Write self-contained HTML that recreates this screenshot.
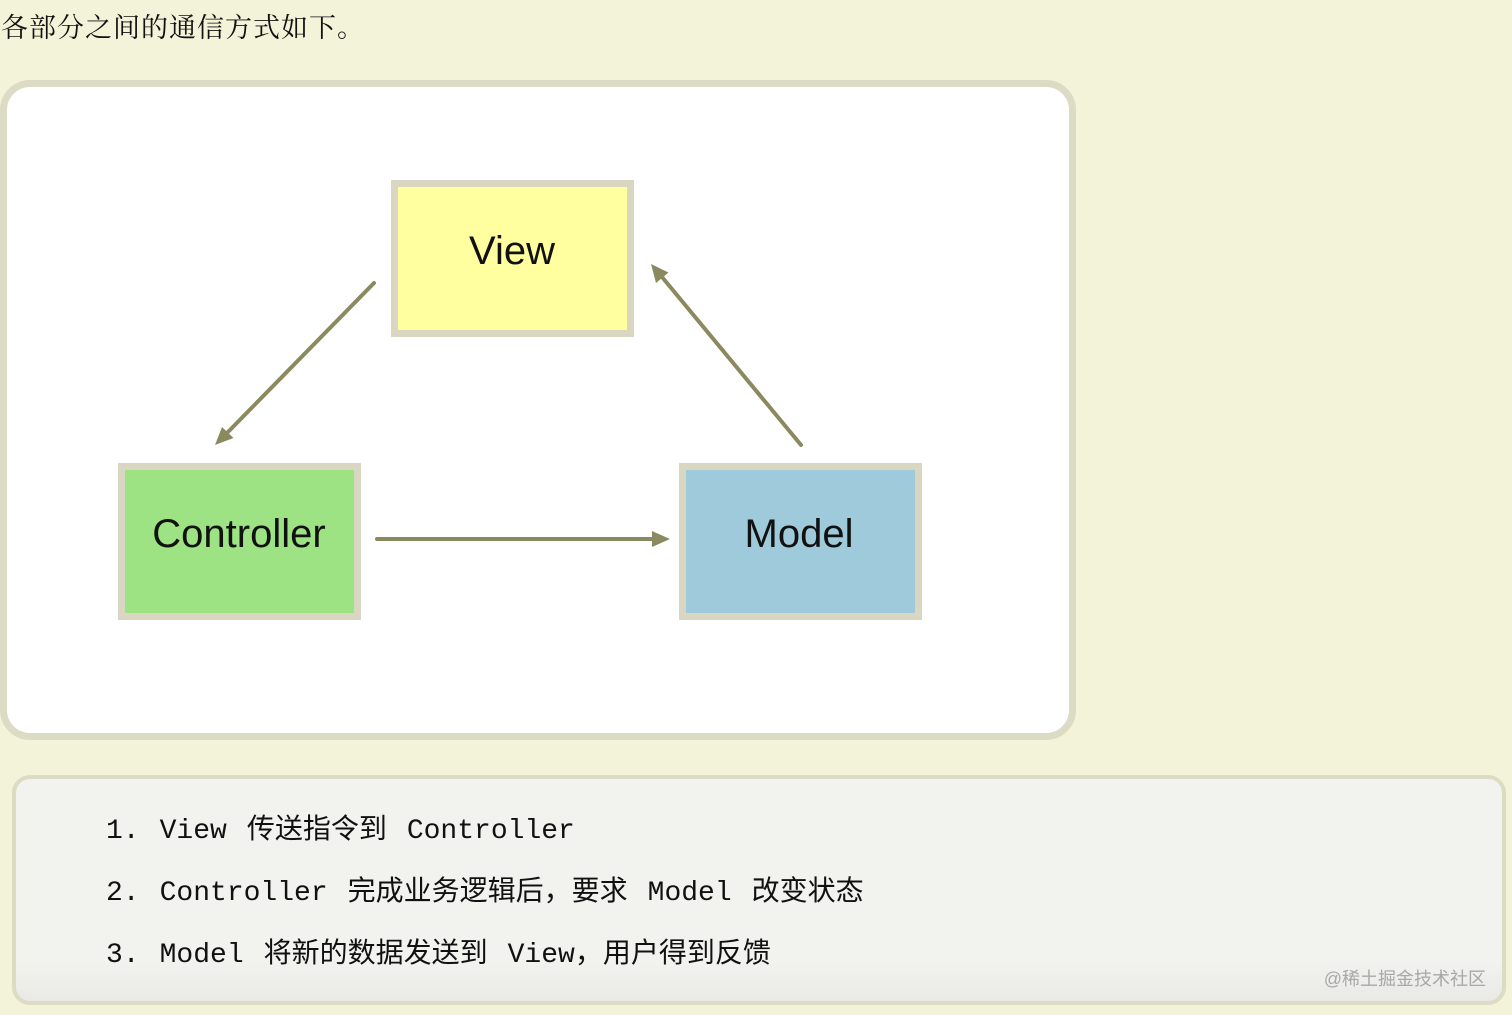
<!DOCTYPE html>
<html>
<head>
<meta charset="utf-8">
<style>
  html, body { margin: 0; padding: 0; }
  body {
    width: 1512px; height: 1015px; overflow: hidden;
    background: #f3f3da;
    position: relative;
  }
  .frame {
    position: absolute; left: 0; top: 80px;
    width: 1062px; height: 646px;
    background: #ffffff;
    border: 7px solid #dcdbc5;
    border-radius: 30px;
  }
  .code {
    position: absolute; left: 12px; top: 775px;
    width: 1486px; height: 222px;
    border: 4px solid #dcdcc4;
    border-radius: 18px;
    background: linear-gradient(to bottom, #f2f2ef 0%, #f2f2ef 82%, #e9e9e5 100%);
  }
  svg { position: absolute; left: 0; top: 0; }
</style>
</head>
<body>
<div class="frame"></div>
<div class="code"></div>
<svg width="1512" height="1015" viewBox="0 0 1512 1015" xmlns="http://www.w3.org/2000/svg">
  <text x="1" y="37" font-family="'Liberation Serif', 'Noto Serif CJK SC', serif" font-size="27" letter-spacing="1" fill="#111">各部分之间的通信方式如下。</text>

  <!-- View box -->
  <rect x="394.5" y="183.5" width="236" height="150" fill="#ffffa0" stroke="#d9d6c1" stroke-width="7"/>
  <text x="512" y="264" text-anchor="middle" font-family="'Liberation Sans', sans-serif" font-size="40" fill="#111">View</text>

  <!-- Controller box -->
  <rect x="121.5" y="466.5" width="236" height="150" fill="#9de283" stroke="#d9d6c1" stroke-width="7"/>
  <text x="239" y="547" text-anchor="middle" font-family="'Liberation Sans', sans-serif" font-size="40" fill="#111">Controller</text>

  <!-- Model box -->
  <rect x="682.5" y="466.5" width="236" height="150" fill="#9ecadb" stroke="#d9d6c1" stroke-width="7"/>
  <text x="799" y="547" text-anchor="middle" font-family="'Liberation Sans', sans-serif" font-size="40" fill="#111">Model</text>

  <!-- Arrows -->
  <g stroke="#8a895f" stroke-width="4" stroke-linecap="round" fill="none">
    <line x1="374" y1="283" x2="227" y2="433"/>
    <line x1="801" y1="445" x2="662" y2="277"/>
    <line x1="377" y1="539" x2="654" y2="539"/>
  </g>
  <g fill="#8a895f">
    <polygon points="215,445 233.5,438 222,427"/>
    <polygon points="651,264 668.5,272.5 656,283"/>
    <polygon points="670,539 652,531 652,547"/>
  </g>

  <!-- Code lines -->
  <g font-family="'Liberation Mono', 'Noto Sans CJK SC', monospace" font-size="28" fill="#111" word-spacing="3.2">
    <text x="106" y="838">1. View 传送指令到 Controller</text>
    <text x="106" y="900">2. Controller 完成业务逻辑后，要求 Model 改变状态</text>
    <text x="106" y="962">3. Model 将新的数据发送到 View，用户得到反馈</text>
  </g>

  <text x="1486" y="985" text-anchor="end" font-family="'Liberation Sans', 'Noto Sans CJK SC', sans-serif" font-size="18" fill="#a8a8a8">@稀土掘金技术社区</text>
</svg>
</body>
</html>
